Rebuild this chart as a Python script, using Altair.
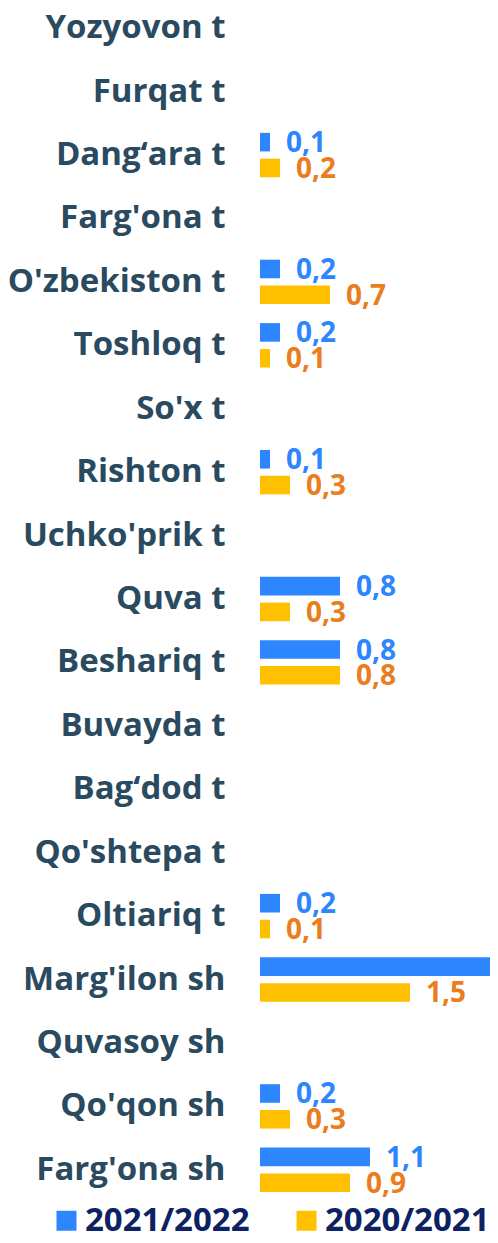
import altair as alt
import pandas as pd

categories = ["Yozyovon t", "Furqat t", "Dang\u2018ara t", "Farg'ona t", "O'zbekiston t",
              "Toshloq t", "So'x t", "Rishton t", "Uchko'prik t", "Quva t", "Beshariq t",
              "Buvayda t", "Bag\u2018dod t", "Qo'shtepa t", "Oltiariq t", "Marg'ilon sh",
              "Quvasoy sh", "Qo'qon sh", "Farg'ona sh"]
series = ["2021/2022", "2020/2021"]
vals_2122 = [None, None, 0.1, None, 0.2, 0.2, None, 0.1, None, 0.8, 0.8,
             None, None, None, 0.2, 2.6, None, 0.2, 1.1]
vals_2021 = [None, None, 0.2, None, 0.7, 0.1, None, 0.3, None, 0.3, 0.8,
             None, None, None, 0.1, 1.5, None, 0.3, 0.9]
x_max = 2.30

rows = []
for c, a, b in zip(categories, vals_2122, vals_2021):
    for s, v in ((series[0], a), (series[1], b)):
        rows.append({"cat": c, "series": s, "value": v,
                     "label": None if v is None else f"{v:.1f}".replace(".", ",")})
df = pd.DataFrame(rows)

FONT = "Open Sans"
color_scale = alt.Scale(domain=series, range=["#2e86ff", "#ffc000"])

base = alt.Chart(df).encode(
    y=alt.Y("cat:N", sort=categories,
            scale=alt.Scale(domain=categories, paddingInner=0.3, paddingOuter=0.0,
                            range=[-6, 1180]),
            axis=alt.Axis(title=None, domain=False, ticks=False, grid=False, labelFont=FONT,
                          labelFontSize=33, labelFontWeight="bold", labelColor="#2a4a60",
                          labelPadding=35, labelLimit=300)),
    yOffset=alt.YOffset("series:N", sort=series,
                        scale=alt.Scale(domain=series, paddingInner=0.28, paddingOuter=0.0)),
)

xscale = alt.Scale(domain=[0, x_max], nice=False)

bars = base.transform_filter("datum.value != null").mark_bar(clip=True).encode(
    x=alt.X("value:Q", scale=xscale, axis=None),
    color=alt.Color("series:N", scale=color_scale,
                    legend=alt.Legend(title=None, orient="none", legendX=-210, legendY=1192,
                                      direction="horizontal", symbolType="square",
                                      symbolSize=400, symbolStrokeWidth=0, padding=0,
                                      labelFont=FONT, labelFontSize=33,
                                      labelFontWeight="bold", labelColor="#0d2163",
                                      labelLimit=400, columnPadding=40, labelOffset=2)),
)

labels = base.transform_filter(f"datum.value != null && datum.value <= {x_max}").mark_text(
    align="left", baseline="middle", dx=16, dy=2, font=FONT, fontSize=28,
    fontWeight="bold"
).encode(
    x=alt.X("value:Q", scale=xscale, axis=None),
    text="label:N",
    color=alt.Color("series:N", scale=alt.Scale(domain=series, range=["#2e86ff", "#ea7d1e"]),
                    legend=None),
)

chart = alt.layer(bars, labels).resolve_scale(color="independent").properties(
    width=230, height=1180,
    padding={"left": 252, "top": 4, "right": 0, "bottom": 42},
    autosize=alt.AutoSizeParams(type="none"),
    background="white",
).configure_view(strokeWidth=0, stroke="transparent")

chart.save("out.html", embed_options={"renderer": "svg", "actions": False})
